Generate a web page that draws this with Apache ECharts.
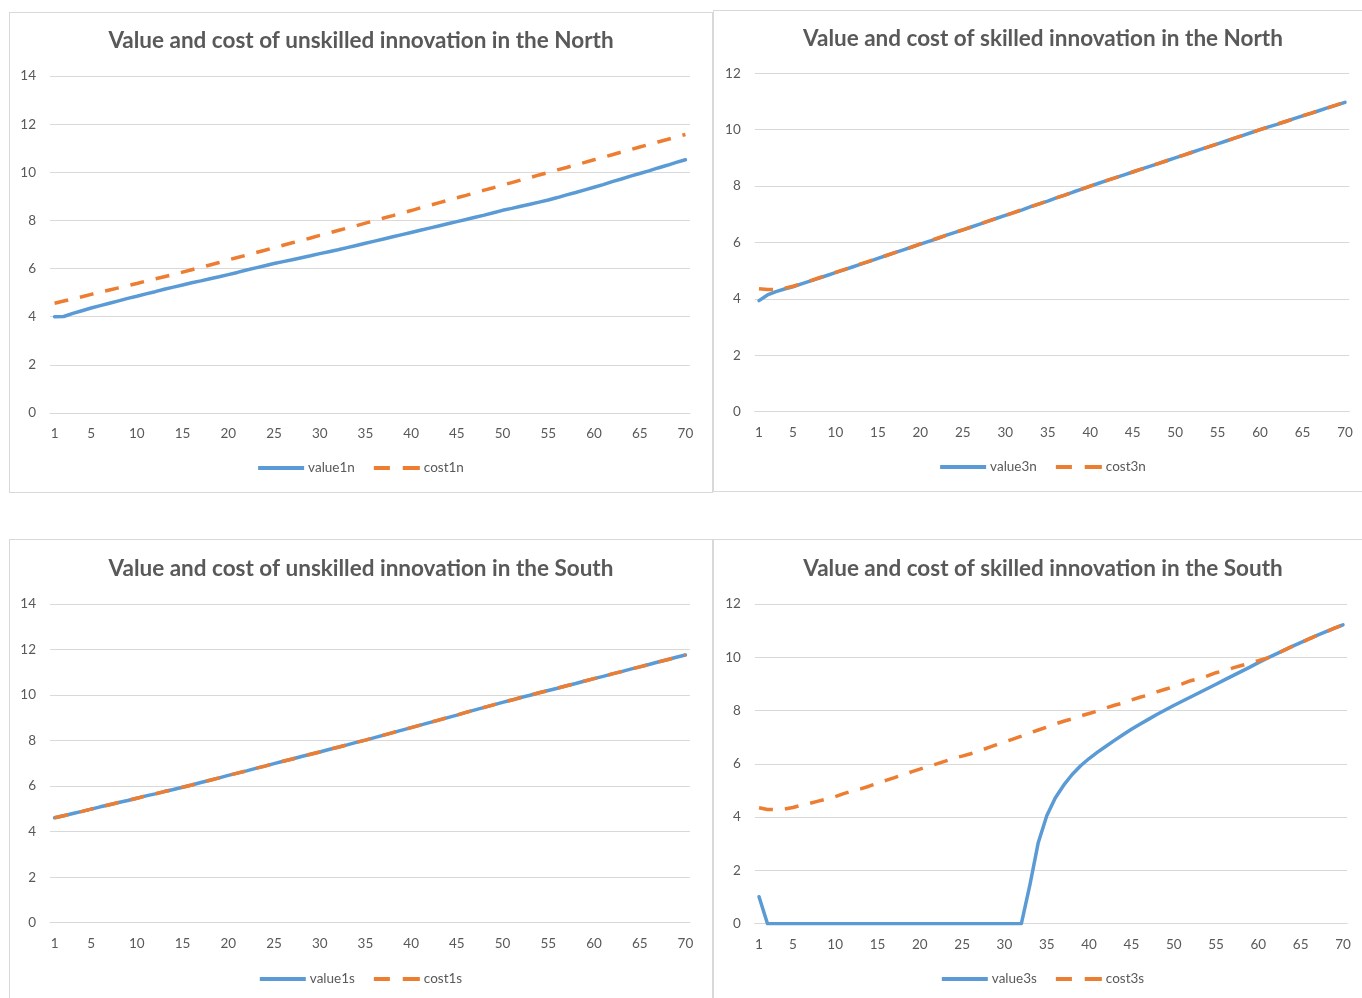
<!DOCTYPE html>
<html>
<head>
<meta charset="utf-8">
<title>Value and cost of innovation</title>
<script src="https://cdn.jsdelivr.net/npm/echarts@6/dist/echarts.min.js"></script>
<style>
  html, body { margin: 0; padding: 0; background: #ffffff; overflow: hidden; }
  body { width: 1362px; height: 998px; position: relative; }
  .panel { position: absolute; box-sizing: border-box; border: 1px solid #d9d9d9; background: #fff; }
</style>
</head>
<body>
<div id="p1" class="panel" style="left:9px;top:12px;width:704px;height:481px;"></div>
<div id="p2" class="panel" style="left:713px;top:10px;width:660px;height:482px;"></div>
<div id="p3" class="panel" style="left:9px;top:539px;width:704px;height:462px;"></div>
<div id="p4" class="panel" style="left:713px;top:539px;width:660px;height:462px;"></div>
<script>
// Periods 1..70 on the horizontal axis
const categories = Array.from({ length: 70 }, (_, i) => String(i + 1));
// Periods that carry a tick label
const xTickLabels = ['1', '5', '10', '15', '20', '25', '30', '35', '40', '45', '50', '55', '60', '65', '70'];

// Unskilled innovation, North
const value1n = [
  4.00, 4.01, 4.14, 4.25, 4.36, 4.46, 4.56, 4.66, 4.76, 4.85,
  4.95, 5.04, 5.14, 5.23, 5.32, 5.41, 5.49, 5.58, 5.66, 5.75,
  5.84, 5.94, 6.03, 6.12, 6.21, 6.29, 6.37, 6.45, 6.53, 6.62,
  6.70, 6.78, 6.87, 6.96, 7.05, 7.14, 7.23, 7.32, 7.41, 7.50,
  7.59, 7.68, 7.77, 7.86, 7.95, 8.04, 8.13, 8.22, 8.32, 8.42,
  8.50, 8.59, 8.67, 8.76, 8.85, 8.95, 9.06, 9.16, 9.27, 9.38,
  9.49, 9.61, 9.72, 9.84, 9.95, 10.06, 10.18, 10.29, 10.41, 10.52
];
const cost1n = [
  4.56, 4.65, 4.74, 4.83, 4.93, 5.02, 5.11, 5.20, 5.29, 5.38,
  5.48, 5.57, 5.66, 5.75, 5.85, 5.95, 6.05, 6.15, 6.25, 6.36,
  6.46, 6.56, 6.66, 6.76, 6.87, 6.97, 7.07, 7.17, 7.27, 7.38,
  7.48, 7.58, 7.68, 7.78, 7.89, 7.99, 8.10, 8.20, 8.31, 8.41,
  8.52, 8.62, 8.73, 8.83, 8.94, 9.04, 9.15, 9.26, 9.36, 9.47,
  9.57, 9.68, 9.78, 9.89, 9.99, 10.10, 10.20, 10.31, 10.41, 10.52,
  10.62, 10.73, 10.84, 10.94, 11.05, 11.15, 11.26, 11.36, 11.47, 11.57
];

// Skilled innovation, North
const value3n = [
  3.94, 4.14, 4.26, 4.35, 4.43, 4.53, 4.63, 4.73, 4.83, 4.93,
  5.03, 5.13, 5.23, 5.33, 5.44, 5.54, 5.64, 5.74, 5.84, 5.94,
  6.04, 6.14, 6.25, 6.35, 6.45, 6.55, 6.65, 6.76, 6.86, 6.96,
  7.06, 7.16, 7.27, 7.37, 7.47, 7.58, 7.68, 7.79, 7.89, 8.00,
  8.10, 8.20, 8.30, 8.40, 8.50, 8.60, 8.70, 8.80, 8.90, 9.00,
  9.10, 9.20, 9.30, 9.40, 9.50, 9.60, 9.70, 9.80, 9.90, 10.00,
  10.10, 10.19, 10.29, 10.39, 10.49, 10.58, 10.68, 10.78, 10.87, 10.97
];
const cost3n = [
  4.36, 4.33, 4.33, 4.38, 4.45, 4.54, 4.64, 4.74, 4.84, 4.94,
  5.04, 5.14, 5.24, 5.34, 5.44, 5.54, 5.64, 5.74, 5.84, 5.95,
  6.05, 6.15, 6.25, 6.35, 6.45, 6.55, 6.66, 6.76, 6.86, 6.96,
  7.06, 7.17, 7.27, 7.37, 7.48, 7.58, 7.68, 7.79, 7.89, 8.00,
  8.10, 8.20, 8.30, 8.40, 8.50, 8.60, 8.70, 8.80, 8.90, 9.00,
  9.10, 9.20, 9.30, 9.40, 9.50, 9.60, 9.70, 9.80, 9.90, 10.00,
  10.10, 10.20, 10.29, 10.39, 10.49, 10.59, 10.68, 10.78, 10.88, 10.98
];

// Unskilled innovation, South
const value1s = [
  4.61, 4.70, 4.80, 4.89, 4.99, 5.09, 5.18, 5.28, 5.37, 5.47,
  5.57, 5.66, 5.76, 5.85, 5.95, 6.05, 6.16, 6.26, 6.36, 6.47,
  6.57, 6.67, 6.78, 6.88, 6.99, 7.09, 7.19, 7.30, 7.40, 7.50,
  7.61, 7.71, 7.81, 7.92, 8.02, 8.13, 8.24, 8.35, 8.46, 8.57,
  8.68, 8.79, 8.90, 9.01, 9.12, 9.24, 9.35, 9.46, 9.57, 9.68,
  9.78, 9.89, 9.99, 10.10, 10.20, 10.30, 10.41, 10.51, 10.62, 10.72,
  10.82, 10.93, 11.03, 11.14, 11.24, 11.34, 11.45, 11.55, 11.66, 11.76
];
const cost1s = [
  4.61, 4.70, 4.80, 4.89, 4.99, 5.09, 5.18, 5.28, 5.37, 5.47,
  5.57, 5.66, 5.76, 5.85, 5.95, 6.05, 6.16, 6.26, 6.36, 6.47,
  6.57, 6.67, 6.78, 6.88, 6.99, 7.09, 7.19, 7.30, 7.40, 7.50,
  7.61, 7.71, 7.81, 7.92, 8.02, 8.13, 8.24, 8.35, 8.46, 8.57,
  8.68, 8.79, 8.90, 9.01, 9.12, 9.24, 9.35, 9.46, 9.57, 9.68,
  9.78, 9.89, 9.99, 10.10, 10.20, 10.30, 10.41, 10.51, 10.62, 10.72,
  10.82, 10.93, 11.03, 11.14, 11.24, 11.34, 11.45, 11.55, 11.66, 11.76
];

// Skilled innovation, South
const value3s = [
  1.01, 0, 0, 0, 0, 0, 0, 0, 0, 0,
  0, 0, 0, 0, 0, 0, 0, 0, 0, 0,
  0, 0, 0, 0, 0, 0, 0, 0, 0, 0,
  0, 0, 1.45, 3.05, 4.05, 4.72, 5.20, 5.60, 5.93, 6.20,
  6.44, 6.66, 6.88, 7.09, 7.30, 7.49, 7.67, 7.85, 8.02, 8.19,
  8.35, 8.51, 8.67, 8.83, 8.99, 9.15, 9.31, 9.47, 9.63, 9.80,
  9.96, 10.11, 10.26, 10.41, 10.55, 10.69, 10.83, 10.96, 11.09, 11.22
];
const cost3s = [
  4.35, 4.29, 4.28, 4.30, 4.36, 4.45, 4.52, 4.60, 4.68, 4.77,
  4.88, 4.98, 5.06, 5.16, 5.28, 5.38, 5.48, 5.59, 5.70, 5.80,
  5.91, 6.00, 6.10, 6.21, 6.29, 6.38, 6.48, 6.60, 6.71, 6.82,
  6.93, 7.04, 7.16, 7.27, 7.38, 7.50, 7.60, 7.69, 7.80, 7.89,
  7.98, 8.10, 8.20, 8.28, 8.40, 8.50, 8.58, 8.70, 8.80, 8.90,
  9.00, 9.12, 9.20, 9.30, 9.42, 9.50, 9.60, 9.69, 9.78, 9.87,
  9.97, 10.11, 10.26, 10.41, 10.55, 10.69, 10.83, 10.96, 11.09, 11.22
];

const FONT = 'Lato, "Open Sans", sans-serif';
const TEXT = '#595959';
const GRID_LINE = '#d9d9d9';
const BLUE = '#5b9bd5';
const ORANGE = '#ed7d31';

// Legend keys: a solid bar for the value series, two dashes for the cost series
const SOLID_KEY = 'path://M0,0h46v4h-46z';
const DASHED_KEY = 'path://M0,0h15v4h-15zM27,0h16v4h-16z';

function buildOption(cfg) {
  return {
    animation: false,
    backgroundColor: '#ffffff',
    textStyle: { fontFamily: FONT },
    title: {
      text: cfg.title,
      left: 'center',
      top: cfg.titleTop,
      textStyle: { fontFamily: FONT, fontSize: 22.5, fontWeight: 'bold', color: TEXT }
    },
    legend: {
      top: cfg.legendTop,
      left: 'center',
      itemWidth: 46,
      itemHeight: 4,
      itemGap: 19,
      symbolKeepAspect: false,
      textStyle: { fontFamily: FONT, fontSize: 13.5, color: TEXT, padding: [0, 0, 0, -1] },
      data: [
        { name: cfg.names[0], icon: SOLID_KEY },
        { name: cfg.names[1], icon: DASHED_KEY }
      ]
    },
    grid: cfg.grid,
    xAxis: {
      type: 'category',
      data: categories,
      boundaryGap: true,
      axisLine: { show: true, lineStyle: { color: GRID_LINE, width: 1 } },
      axisTick: { show: false },
      axisLabel: {
        interval: (idx, val) => xTickLabels.indexOf(val) !== -1,
        margin: 14,
        fontFamily: FONT,
        fontSize: 13.5,
        color: TEXT
      },
      splitLine: { show: false }
    },
    yAxis: {
      type: 'value',
      min: 0,
      max: cfg.yMax,
      interval: 2,
      axisLine: { show: false },
      axisTick: { show: false },
      axisLabel: { margin: 14, fontFamily: FONT, fontSize: 13.5, color: TEXT },
      splitLine: { lineStyle: { color: GRID_LINE, width: 1 } }
    },
    series: [
      {
        name: cfg.names[0],
        type: 'line',
        data: cfg.value,
        symbol: 'none',
        smooth: false,
        lineStyle: { color: BLUE, width: 3.5, cap: 'round', join: 'round' },
        itemStyle: { color: BLUE }
      },
      {
        name: cfg.names[1],
        type: 'line',
        data: cfg.cost,
        symbol: 'none',
        smooth: false,
        lineStyle: { color: ORANGE, width: 3.5, type: [14, 12], cap: 'butt', join: 'round' },
        itemStyle: { color: ORANGE }
      }
    ]
  };
}

const panels = [
  {
    id: 'p1',
    title: 'Value and cost of unskilled innovation in the North',
    names: ['value1n', 'cost1n'], value: value1n, cost: cost1n, yMax: 14,
    titleTop: 11, legendTop: 443,
    grid: { left: 40, right: 22, top: 63, bottom: 79 }
  },
  {
    id: 'p2',
    title: 'Value and cost of skilled innovation in the North',
    names: ['value3n', 'cost3n'], value: value3n, cost: cost3n, yMax: 12,
    titleTop: 11, legendTop: 444,
    grid: { left: 40.75, right: 22.75, top: 62.3, bottom: 79.3 }
  },
  {
    id: 'p3',
    title: 'Value and cost of unskilled innovation in the South',
    names: ['value1s', 'cost1s'], value: value1s, cost: cost1s, yMax: 14,
    titleTop: 12, legendTop: 427,
    grid: { left: 40, right: 22, top: 64, bottom: 77.3 }
  },
  {
    id: 'p4',
    title: 'Value and cost of skilled innovation in the South',
    names: ['value3s', 'cost3s'], value: value3s, cost: cost3s, yMax: 12,
    titleTop: 12, legendTop: 427,
    grid: { left: 40.8, right: 24.8, top: 64, bottom: 76.3 }
  }
];

panels.forEach(cfg => {
  const chart = echarts.init(document.getElementById(cfg.id), null, { renderer: 'canvas' });
  chart.setOption(buildOption(cfg));
});
</script>
</body>
</html>
